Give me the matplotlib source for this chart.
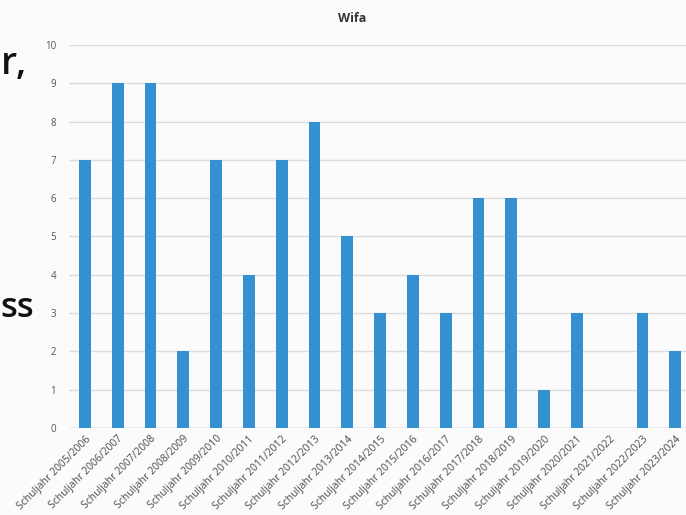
import matplotlib
matplotlib.use("Agg")
import matplotlib.pyplot as plt

# School years and counts per year
years = [
    "Schuljahr 2005/2006", "Schuljahr 2006/2007", "Schuljahr 2007/2008",
    "Schuljahr 2008/2009", "Schuljahr 2009/2010", "Schuljahr 2010/2011",
    "Schuljahr 2011/2012", "Schuljahr 2012/2013", "Schuljahr 2013/2014",
    "Schuljahr 2014/2015", "Schuljahr 2015/2016", "Schuljahr 2016/2017",
    "Schuljahr 2017/2018", "Schuljahr 2018/2019", "Schuljahr 2019/2020",
    "Schuljahr 2020/2021", "Schuljahr 2021/2022", "Schuljahr 2022/2023",
    "Schuljahr 2023/2024",
]
counts = [7, 9, 9, 2, 7, 4, 7, 8, 5, 3, 4, 3, 6, 6, 1, 3, 0, 3, 2]
y_ticks = list(range(0, 11))

W, H = 686, 515
fig = plt.figure(figsize=(W / 100, H / 100), dpi=100)
fig.patch.set_facecolor("#fbfbfb")

# Axes spans slightly past the right edge of the figure
ax = fig.add_axes([68.6 / W, 87 / H, 623 / W, 383 / H])
ax.set_facecolor("none")

x = list(range(len(years)))
ax.bar(x, counts, width=0.36, color="#3490d1", zorder=3)

ax.set_xlim(-0.5, len(years) - 0.5)
ax.set_ylim(0, 10)
ax.set_yticks(y_ticks)
ax.set_yticklabels([str(v) for v in y_ticks], fontsize=7, color="#555555",
                   family="Open Sans")
ax.tick_params(axis="y", length=0, pad=9)
ax.tick_params(axis="x", length=0, pad=4)
ax.set_xticks(x)
ax.set_xticklabels(years, rotation=45, ha="right", rotation_mode="anchor",
                   fontsize=7.5, color="#4a4a4a", family="Open Sans")
ax.grid(axis="y", color="#dcdcdc", linewidth=1.0, zorder=0)
for s in ax.spines.values():
    s.set_visible(False)
ax.axhline(0, color="#d0d0d0", linewidth=1.0, zorder=2)

fig.text(352 / W, 1 - 18 / H, "Wifa", ha="center", va="center",
         fontsize=9, fontweight="bold", color="#333333", family="Open Sans")

# Fragments of slide text at the left edge
fig.text(0.5 / W, 1 - 64 / H, "r,", ha="left", va="center",
         fontsize=27, fontweight="semibold", color="#111111",
         family="Open Sans")
fig.text(0.5 / W, 1 - 308 / H, "ss", ha="left", va="center",
         fontsize=25, fontweight="semibold", color="#111111",
         family="Open Sans")

fig.savefig("out.png", dpi=100, facecolor=fig.get_facecolor())
